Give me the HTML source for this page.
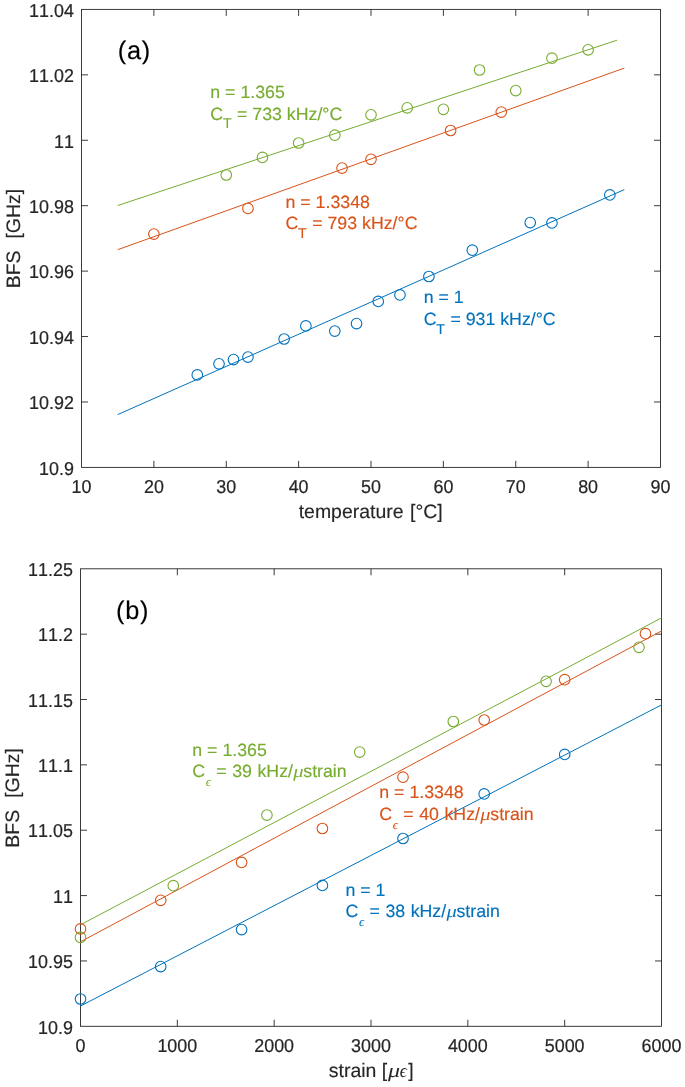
<!DOCTYPE html>
<html><head><meta charset="utf-8"><title>BFS vs temperature and strain</title>
<style>
html,body{margin:0;padding:0;background:#fff;}
body{width:685px;height:1087px;overflow:hidden;}
svg{display:block;will-change:transform;font-family:"Liberation Sans",sans-serif;font-kerning:none;text-rendering:geometricPrecision;}
.tk{font-size:17.9px;fill:#262626;stroke:#262626;stroke-width:0.2px;}
.lb{font-size:19.45px;fill:#262626;stroke:#262626;stroke-width:0.15px;}
.an{font-size:17.75px;stroke-width:0.15px;}
.sub{font-size:14.2px;}
.pn{font-size:25.4px;fill:#000;stroke:#000;stroke-width:0.12px;letter-spacing:0.8px;}
.tex{font-family:"Liberation Serif",serif;font-style:italic;stroke-width:0;}
.axl{stroke:#262626;stroke-width:0.9;fill:none;stroke-linecap:square;}
.tick{stroke:#262626;stroke-width:0.9;fill:none;}
.dl{stroke-width:1;fill:none;}
.mk{stroke-width:1.1;fill:none;}
</style></head><body>
<svg width="685" height="1087" viewBox="0 0 685 1087">
<rect x="0" y="0" width="685" height="1087" fill="#ffffff"/>
<path class="tick" d="M153.88 467.40v-6.50M153.88 9.40v6.50M226.25 467.40v-6.50M226.25 9.40v6.50M298.62 467.40v-6.50M298.62 9.40v6.50M371.00 467.40v-6.50M371.00 9.40v6.50M443.38 467.40v-6.50M443.38 9.40v6.50M515.75 467.40v-6.50M515.75 9.40v6.50M588.12 467.40v-6.50M588.12 9.40v6.50M81.50 401.97h6.50M660.50 401.97h-6.50M81.50 336.54h6.50M660.50 336.54h-6.50M81.50 271.11h6.50M660.50 271.11h-6.50M81.50 205.69h6.50M660.50 205.69h-6.50M81.50 140.26h6.50M660.50 140.26h-6.50M81.50 74.83h6.50M660.50 74.83h-6.50"/>
<rect class="axl" x="81.50" y="9.40" width="579.00" height="458.00"/>
<text class="tk" text-anchor="middle" transform="translate(81.50 492.50) scale(1 1.04)">10</text>
<text class="tk" text-anchor="middle" transform="translate(153.88 492.50) scale(1 1.04)">20</text>
<text class="tk" text-anchor="middle" transform="translate(226.25 492.50) scale(1 1.04)">30</text>
<text class="tk" text-anchor="middle" transform="translate(298.62 492.50) scale(1 1.04)">40</text>
<text class="tk" text-anchor="middle" transform="translate(371.00 492.50) scale(1 1.04)">50</text>
<text class="tk" text-anchor="middle" transform="translate(443.38 492.50) scale(1 1.04)">60</text>
<text class="tk" text-anchor="middle" transform="translate(515.75 492.50) scale(1 1.04)">70</text>
<text class="tk" text-anchor="middle" transform="translate(588.12 492.50) scale(1 1.04)">80</text>
<text class="tk" text-anchor="middle" transform="translate(660.50 492.50) scale(1 1.04)">90</text>
<text class="tk" text-anchor="end" transform="translate(73.90 474.65) scale(1 1.04)">10.9</text>
<text class="tk" text-anchor="end" transform="translate(73.90 409.22) scale(1 1.04)">10.92</text>
<text class="tk" text-anchor="end" transform="translate(73.90 343.79) scale(1 1.04)">10.94</text>
<text class="tk" text-anchor="end" transform="translate(73.90 278.36) scale(1 1.04)">10.96</text>
<text class="tk" text-anchor="end" transform="translate(73.90 212.94) scale(1 1.04)">10.98</text>
<text class="tk" text-anchor="end" transform="translate(73.90 147.51) scale(1 1.04)">11</text>
<text class="tk" text-anchor="end" transform="translate(73.90 82.08) scale(1 1.04)">11.02</text>
<text class="tk" text-anchor="end" transform="translate(73.90 16.65) scale(1 1.04)">11.04</text>
<line class="dl" stroke="#77AC30" x1="117.69" y1="205.50" x2="617.08" y2="40.20"/>
<line class="dl" stroke="#D95319" x1="117.69" y1="249.70" x2="624.31" y2="68.10"/>
<line class="dl" stroke="#0072BD" x1="117.69" y1="414.60" x2="624.31" y2="189.60"/>
<g class="mk" stroke="#77AC30">
<circle cx="226.25" cy="175.00" r="5.3"/>
<circle cx="262.44" cy="157.40" r="5.3"/>
<circle cx="298.62" cy="143.00" r="5.3"/>
<circle cx="334.81" cy="135.20" r="5.3"/>
<circle cx="371.00" cy="114.80" r="5.3"/>
<circle cx="407.19" cy="107.80" r="5.3"/>
<circle cx="443.38" cy="109.30" r="5.3"/>
<circle cx="479.56" cy="70.00" r="5.3"/>
<circle cx="515.75" cy="90.60" r="5.3"/>
<circle cx="551.94" cy="58.20" r="5.3"/>
<circle cx="588.12" cy="49.80" r="5.3"/>
</g>
<g class="mk" stroke="#D95319">
<circle cx="153.88" cy="234.10" r="5.3"/>
<circle cx="247.96" cy="208.40" r="5.3"/>
<circle cx="342.05" cy="168.10" r="5.3"/>
<circle cx="371.00" cy="159.30" r="5.3"/>
<circle cx="450.61" cy="130.50" r="5.3"/>
<circle cx="501.27" cy="112.10" r="5.3"/>
</g>
<g class="mk" stroke="#0072BD">
<circle cx="197.30" cy="374.90" r="5.3"/>
<circle cx="219.01" cy="363.80" r="5.3"/>
<circle cx="233.49" cy="359.60" r="5.3"/>
<circle cx="247.96" cy="357.10" r="5.3"/>
<circle cx="284.15" cy="339.00" r="5.3"/>
<circle cx="305.86" cy="325.90" r="5.3"/>
<circle cx="334.81" cy="331.10" r="5.3"/>
<circle cx="356.52" cy="323.60" r="5.3"/>
<circle cx="378.24" cy="301.40" r="5.3"/>
<circle cx="399.95" cy="294.90" r="5.3"/>
<circle cx="428.90" cy="276.50" r="5.3"/>
<circle cx="472.32" cy="250.20" r="5.3"/>
<circle cx="530.23" cy="222.60" r="5.3"/>
<circle cx="551.94" cy="222.90" r="5.3"/>
<circle cx="609.84" cy="194.90" r="5.3"/>
</g>
<g class="an" fill="#77AC30" stroke="#77AC30">
<text x="210.30" y="97.80">n = 1.365</text>
<text x="210.30" y="119.60">C</text>
<text style="font-size:14.2px" x="222.90" y="128.10">T</text>
<text x="237.00" y="119.60">= 733 kHz/°C</text>
</g>
<g class="an" fill="#D95319" stroke="#D95319">
<text x="285.50" y="207.50">n = 1.3348</text>
<text x="285.50" y="229.40">C</text>
<text style="font-size:14.2px" x="298.10" y="237.90">T</text>
<text x="312.20" y="229.40">= 793 kHz/°C</text>
</g>
<g class="an" fill="#0072BD" stroke="#0072BD">
<text x="423.70" y="303.40">n = 1</text>
<text x="423.70" y="325.00">C</text>
<text style="font-size:14.2px" x="436.30" y="333.50">T</text>
<text x="450.40" y="325.00">= 931 kHz/°C</text>
</g>
<text class="pn" x="117.7" y="58.9">(a)</text>
<text class="lb" style="word-spacing:1.2px" text-anchor="middle" x="370.7" y="517.6">temperature [°C]</text>
<text class="lb" style="word-spacing:0.6px" text-anchor="middle" transform="translate(20.2 238.6) rotate(-90)" xml:space="preserve">BFS  [GHz]</text>
<path class="tick" d="M177.33 1026.30v-6.50M177.33 568.80v6.50M274.17 1026.30v-6.50M274.17 568.80v6.50M371.00 1026.30v-6.50M371.00 568.80v6.50M467.83 1026.30v-6.50M467.83 568.80v6.50M564.67 1026.30v-6.50M564.67 568.80v6.50M80.50 960.94h6.50M661.50 960.94h-6.50M80.50 895.59h6.50M661.50 895.59h-6.50M80.50 830.23h6.50M661.50 830.23h-6.50M80.50 764.87h6.50M661.50 764.87h-6.50M80.50 699.51h6.50M661.50 699.51h-6.50M80.50 634.16h6.50M661.50 634.16h-6.50"/>
<rect class="axl" x="80.50" y="568.80" width="581.00" height="457.50"/>
<text class="tk" text-anchor="middle" transform="translate(80.50 1051.60) scale(1 1.04)">0</text>
<text class="tk" text-anchor="middle" transform="translate(177.33 1051.60) scale(1 1.04)">1000</text>
<text class="tk" text-anchor="middle" transform="translate(274.17 1051.60) scale(1 1.04)">2000</text>
<text class="tk" text-anchor="middle" transform="translate(371.00 1051.60) scale(1 1.04)">3000</text>
<text class="tk" text-anchor="middle" transform="translate(467.83 1051.60) scale(1 1.04)">4000</text>
<text class="tk" text-anchor="middle" transform="translate(564.67 1051.60) scale(1 1.04)">5000</text>
<text class="tk" text-anchor="middle" transform="translate(661.50 1051.60) scale(1 1.04)">6000</text>
<text class="tk" text-anchor="end" transform="translate(72.90 1033.55) scale(1 1.04)">10.9</text>
<text class="tk" text-anchor="end" transform="translate(72.90 968.19) scale(1 1.04)">10.95</text>
<text class="tk" text-anchor="end" transform="translate(72.90 902.84) scale(1 1.04)">11</text>
<text class="tk" text-anchor="end" transform="translate(72.90 837.48) scale(1 1.04)">11.05</text>
<text class="tk" text-anchor="end" transform="translate(72.90 772.12) scale(1 1.04)">11.1</text>
<text class="tk" text-anchor="end" transform="translate(72.90 706.76) scale(1 1.04)">11.15</text>
<text class="tk" text-anchor="end" transform="translate(72.90 641.41) scale(1 1.04)">11.2</text>
<text class="tk" text-anchor="end" transform="translate(72.90 576.05) scale(1 1.04)">11.25</text>
<clipPath id="cb"><rect x="80.50" y="568.80" width="581.00" height="457.50"/></clipPath>
<line class="dl" stroke="#77AC30" x1="80.50" y1="924.80" x2="661.50" y2="617.90"/>
<line class="dl" stroke="#D95319" x1="80.50" y1="941.80" x2="661.50" y2="631.00"/>
<line class="dl" stroke="#0072BD" x1="80.50" y1="1006.00" x2="661.50" y2="704.90"/>
<g class="mk" stroke="#77AC30">
<circle cx="80.50" cy="937.40" r="5.3"/>
<circle cx="173.30" cy="885.70" r="5.3"/>
<circle cx="266.90" cy="815.10" r="5.3"/>
<circle cx="359.70" cy="752.10" r="5.3"/>
<circle cx="453.30" cy="721.50" r="5.3"/>
<circle cx="546.10" cy="681.30" r="5.3"/>
<circle cx="639.00" cy="647.30" r="5.3"/>
</g>
<g class="mk" stroke="#D95319">
<circle cx="80.50" cy="928.90" r="5.3"/>
<circle cx="160.70" cy="900.30" r="5.3"/>
<circle cx="241.60" cy="862.40" r="5.3"/>
<circle cx="322.40" cy="828.50" r="5.3"/>
<circle cx="403.00" cy="777.20" r="5.3"/>
<circle cx="484.20" cy="720.00" r="5.3"/>
<circle cx="564.70" cy="679.70" r="5.3"/>
<circle cx="645.50" cy="633.70" r="5.3"/>
</g>
<g class="mk" stroke="#0072BD">
<circle cx="80.50" cy="999.00" r="5.3"/>
<circle cx="160.70" cy="966.60" r="5.3"/>
<circle cx="241.60" cy="929.60" r="5.3"/>
<circle cx="322.40" cy="885.40" r="5.3"/>
<circle cx="403.00" cy="838.50" r="5.3"/>
<circle cx="484.20" cy="793.90" r="5.3"/>
<circle cx="564.70" cy="754.40" r="5.3"/>
</g>
<g class="an" fill="#77AC30" stroke="#77AC30">
<text x="192.30" y="755.80">n = 1.365</text>
<text x="192.30" y="777.30">C</text>
<text class="tex" style="font-size:12.6px" x="205.70" y="786.40">&#x3f5;</text>
<text style="word-spacing:0.6px" x="216.30" y="777.30">= 39 kHz/</text>
<text class="tex" style="font-size:17.5px" transform="translate(293.20 777.30) scale(1.17 1)">&#x3bc;</text>
<text x="303.25" y="777.30">strain</text>
</g>
<g class="an" fill="#D95319" stroke="#D95319">
<text x="379.30" y="798.10">n = 1.3348</text>
<text x="379.30" y="820.00">C</text>
<text class="tex" style="font-size:12.6px" x="392.70" y="829.10">&#x3f5;</text>
<text style="word-spacing:0.6px" x="403.30" y="820.00">= 40 kHz/</text>
<text class="tex" style="font-size:17.5px" transform="translate(480.20 820.00) scale(1.17 1)">&#x3bc;</text>
<text x="490.25" y="820.00">strain</text>
</g>
<g class="an" fill="#0072BD" stroke="#0072BD">
<text x="345.50" y="895.50">n = 1</text>
<text x="345.50" y="917.30">C</text>
<text class="tex" style="font-size:12.6px" x="358.90" y="926.40">&#x3f5;</text>
<text style="word-spacing:0.6px" x="369.50" y="917.30">= 38 kHz/</text>
<text class="tex" style="font-size:17.5px" transform="translate(446.40 917.30) scale(1.17 1)">&#x3bc;</text>
<text x="456.45" y="917.30">strain</text>
</g>
<text class="pn" x="115.9" y="618.8">(b)</text>
<text class="lb" x="328.8" y="1077.4">strain [</text>
<text class="lb tex" style="font-size:19.5px" transform="translate(388.0 1077.4) scale(1.23 1)">&#x3bc;</text>
<text class="lb tex" style="font-size:19px" transform="translate(399.7 1077.4) scale(0.92 1)">&#x3f5;</text>
<text class="lb" x="408.3" y="1077.4">]</text>
<text class="lb" style="word-spacing:0.6px" text-anchor="middle" transform="translate(19.0 797.9) rotate(-90)" xml:space="preserve">BFS  [GHz]</text>
</svg></body></html>
